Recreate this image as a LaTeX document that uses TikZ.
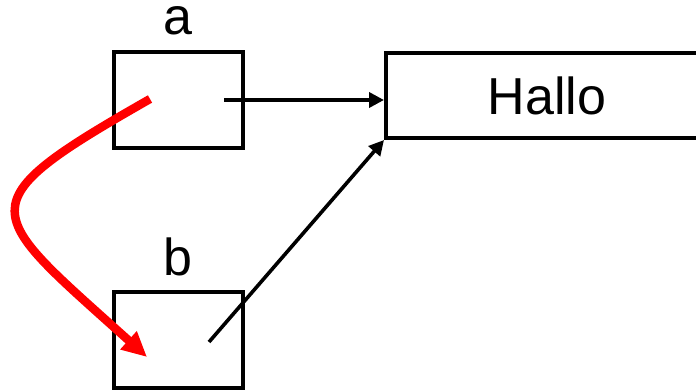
\documentclass[tikz,border=0pt]{standalone}
\usepackage{fontspec}
\setmainfont{Liberation Sans}
\usetikzlibrary{arrows.meta}
\begin{document}
\begin{tikzpicture}[x=1pt,y=-1pt,
  cell/.style={draw, line width=4pt, rectangle, inner sep=0pt},
  lbl/.style={font=\fontsize{52}{60}\selectfont, inner sep=0pt},
  ptr/.style={line width=3.6pt, -{Triangle[length=15pt,width=15pt]}},
  move/.style={line width=8.5pt, red, -{Triangle[length=25pt,width=23pt]}}]
  \useasboundingbox (0,0) rectangle (696,390);
  % variables and the string object
  \node[cell, minimum width=129pt, minimum height=96pt] (a) at (178.5,100) {};
  \node[cell, minimum width=129pt, minimum height=96pt] (b) at (178.5,340) {};
  \node[cell, minimum width=322pt, minimum height=85pt, lbl] (h) at (547,95.5) {Hallo};
  \node[lbl, anchor=base] (la) at (178,35) {a};
  \node[lbl, anchor=base] (lb) at (178,275) {b};
  % reference origins inside the variable boxes
  \coordinate (pa) at (224,100);
  \coordinate (pb) at (209,342);
  \coordinate (ra) at (150,99);
  \coordinate (rb) at (147,357);
  % references to the object
  \draw[ptr] (pa) -- (pa -| h.west);
  \draw[ptr] (pb) -- (h.south west);
  % assignment b = a
  \draw[move] (ra) .. controls (-38,206) and (-16,210) .. (rb);
\end{tikzpicture}
\end{document}
